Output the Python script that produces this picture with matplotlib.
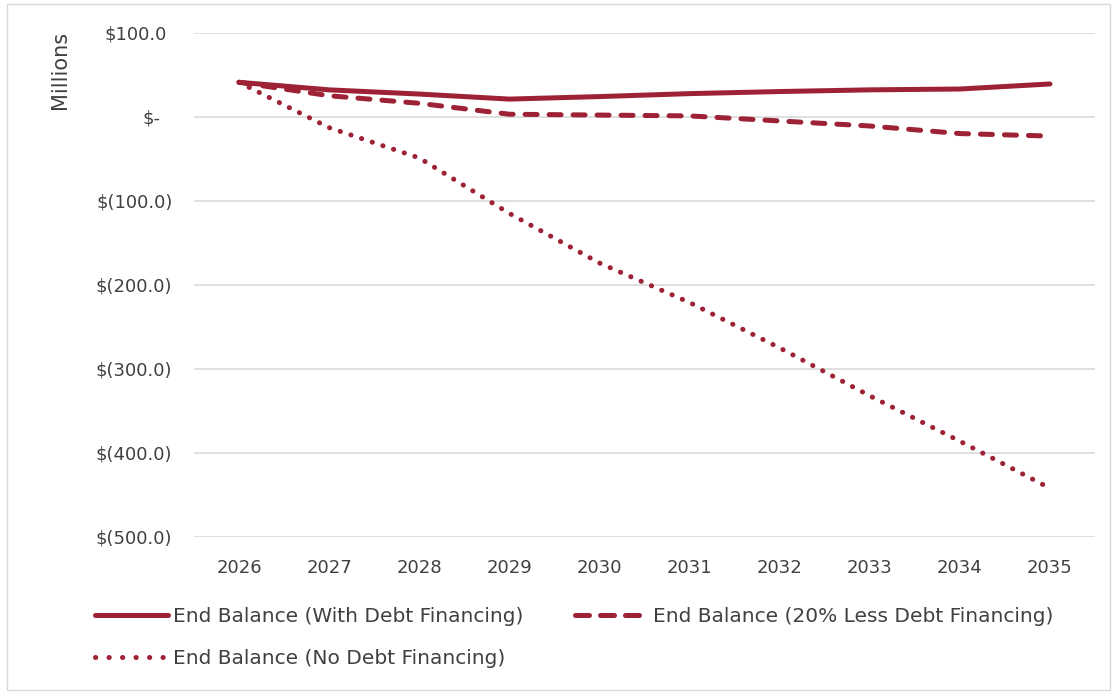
import matplotlib
matplotlib.use("Agg")
import matplotlib.pyplot as plt
from matplotlib.patches import Rectangle
import matplotlib.transforms as mtransforms

plt.rcParams['font.family'] = ['DejaVu Sans']

years = ["2026", "2027", "2028", "2029", "2030", "2031", "2032", "2033", "2034", "2035"]
with_debt = [41, 32, 27, 21, 24, 27.5, 30, 32, 33, 39]
less_debt = [41, 25, 16, 3, 2, 1, -5, -11, -20, -23]
no_debt = [41, -13, -49, -115, -174, -221, -275, -332, -386, -442]
series_labels = ["End Balance (With Debt Financing)",
                 "End Balance (20% Less Debt Financing)",
                 "End Balance (No Debt Financing)"]
y_ticks = [100, 0, -100, -200, -300, -400, -500]

color = "#9D2235"
grid_color = "#D9D9D9"
text_color = "#404040"
W, H = 1114, 692

fig = plt.figure(figsize=(W / 100, H / 100), dpi=100)
ax = fig.add_axes([194 / W, (H - 537) / H, (1095 - 194) / W, (537 - 32.7) / H])

x = list(range(len(years)))
lw = 3.6
l1, = ax.plot(x, with_debt, color=color, lw=lw, solid_capstyle='round',
              solid_joinstyle='round', label=series_labels[0], zorder=3)
l2, = ax.plot(x, less_debt, color=color, lw=lw, dash_capstyle='round',
              label=series_labels[1], zorder=3)
l2.set_dashes((2.4, 2.4))
l3, = ax.plot(x, no_debt, color=color, lw=lw, dash_capstyle='round',
              label=series_labels[2], zorder=3)
l3.set_dashes((0.05, 2.2))

ax.set_xlim(-0.5, len(years) - 0.5)
ax.set_ylim(-500, 100)
ax.set_xticks(x)
ax.set_xticklabels(years)
ax.set_yticks(y_ticks)


def fmt(v):
    if v == 0:
        return "$-"
    if v < 0:
        return f"$({abs(v):.1f})"
    return f"${v:.1f}"


ax.set_yticklabels([fmt(v) for v in y_ticks])
ax.tick_params(axis='both', length=0, labelsize=13, colors=text_color)
ax.tick_params(axis='y', pad=15.5)
ax.tick_params(axis='x', pad=16)

# accounting-style alignment: positives and zero sit left of the closing paren
for lab, v in zip(ax.get_yticklabels(), y_ticks):
    if v > 0:
        lab.set_transform(lab.get_transform() + mtransforms.ScaledTranslation(-6 / 100, 0, fig.dpi_scale_trans))
    elif v == 0:
        lab.set_transform(lab.get_transform() + mtransforms.ScaledTranslation(-12 / 100, 0, fig.dpi_scale_trans))

ax.grid(axis='y', color=grid_color, lw=1.2)
ax.set_axisbelow(True)
for s in ax.spines.values():
    s.set_visible(False)

fig.text(60 / W, 1 - 70 / H, "Millions", rotation=90, ha='center', va='center',
         fontsize=15, color=text_color)

handles = [l1, l3, l2]
labels = [series_labels[0], series_labels[2], series_labels[1]]
leg = fig.legend(handles, labels, ncol=2, loc='upper left',
                 bbox_to_anchor=(95 / W, 1 - 607 / H), frameon=False,
                 fontsize=14.5, handlelength=3.6, handletextpad=0.25,
                 columnspacing=2.6, labelspacing=1.15, borderaxespad=0,
                 borderpad=0)
for t in leg.get_texts():
    t.set_color(text_color)
# legend keys: three dashes and six dots
leg_lines = leg.legend_handles
leg_lines[1].set_dashes((0.05, 2.65))
leg_lines[2].set_dashes((2.8, 2.2))

fig.patches.append(Rectangle((7 / W, 2 / H), (1110 - 7) / W, (689 - 3) / H,
                             transform=fig.transFigure, fill=False,
                             edgecolor="#D9D9D9", lw=1))

fig.savefig("out.png", dpi=100)
